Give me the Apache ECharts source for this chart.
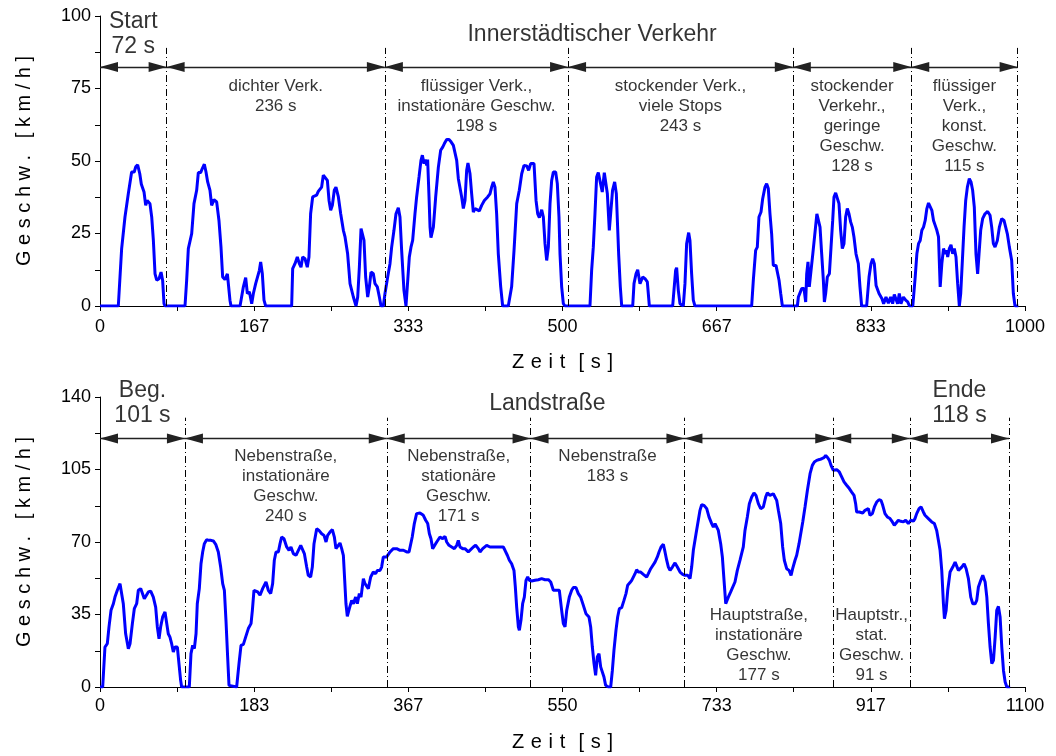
<!DOCTYPE html>
<html>
<head>
<meta charset="utf-8">
<script src="https://cdn.jsdelivr.net/npm/echarts/dist/echarts.min.js"></script>
<style>html,body{margin:0;background:#fff}#chart{width:1056px;height:756px}</style>
</head>
<body>
<div id="chart"></div>
<script>
// --- Innerstädtischer Verkehr (oben) ---
let topTime = [0,19.8,23.4,25,27,30.6,34.2,37,38.6,40.7,43,44.7,47.6,49.4,51,54,55.9,57.7,59.5,61.3,63.8,66,67.7,69.2,70.3,
  91.9,93.7,95.5,97.3,99.1,101.6,104.5,106.3,108.8,110.6,112.8,114.6,116.4,118.9,120.7,123.2,126.1,128.6,130.8,132.6,135.1,137.7,139.5,140.5,141.6,
  151.4,155,157.5,159.3,161.5,164,165.8,168.3,170,172.3,173.7,175.5,177.3,179.1,
  207.2,208.3,210.8,213.3,215.5,217.3,219.1,221.6,224.1,225.9,227.7,229.9,231.4,234.2,236,239.6,241.4,243.2,245.8,247.6,249.4,251.2,253.3,255.1,257.7,260.2,263.1,264.9,267.7,270.3,273.9,276.8,
  278.6,280.4,282.2,284,285.4,287.2,289.4,291.2,293,295.5,297.3,299.8,302,303.8,306.3,
  308.1,311,313.5,315.3,317.8,320,322.5,324.3,326.1,328.6,330.8,332.3,334.4,336.2,338,340.5,342.3,344.9,347,348.5,350.3,351.7,353.2,354.2,355.7,356.8,357.8,360.4,362.9,365.8,368.3,370.5,372.3,374.8,377.3,379.5,382,383.8,385.6,387.4,389.2,391,392.8,394.6,396.4,397.8,400,401.8,403.6,405.4,407.2,410.1,412.6,415.5,419.1,421.6,423.4,425.2,427,428.8,430.6,433.2,435.3,
  441.4,445,447.6,450.5,453.3,455.9,458.4,461.3,463.4,465.6,469.2,471.4,473.2,475,477.5,479.3,481.1,482.9,484.7,486.5,488.3,490.1,492.6,494.4,496.2,497.3,499.1,500.9,502.7,
  529.7,531.5,533.3,535.1,536.9,538.7,540.5,543,545.2,546.7,548.5,550.6,552,554.1,556.4,558.2,560.7,562.5,564,
  575.9,577.3,579.5,581.3,583.8,586.7,589.2,591.7,593.9,619.1,620.5,622.3,623.4,625.2,627,630.6,632.4,634.2,636.4,637.8,639.6,641.4,643.2,
  704.5,706.3,708.8,710.6,712.4,714.6,716.4,718.9,720.7,722.5,724.3,726.1,727.9,730.8,732.3,734.1,735.9,737.7,
  753.9,755,757,758.6,761.1,762.9,764,765.4,766.8,768.3,770.6,773.2,775,776.8,778.4,780.2,782,783.1,784.5,786.3,788.5,790.3,792.1,793.5,795.3,797.1,798.9,800.7,802.5,804.3,806.1,807.9,809.7,811.5,813.3,815.1,817.3,819.8,821.6,823.4,
  828.8,831.4,833.5,835.3,837.1,839,840.4,842.2,844,845.4,847.2,849.7,852.3,854.8,856.9,858.7,860.5,862.3,864.1,865.9,868.5,871,873.2,875.1,
  878.7,881.3,883.1,884.9,886.7,888.5,890.3,892.1,893.9,895.7,897.3,899.3,901.1,902.9,904.7,906.5,908.3,910.1,911.9,913.7,915.5,916.4,918.2,920,921.8,923.6,925.4,927.2,929,
  930.5,932.3,934.1,935.9,937.7,939.8,941.6,943.4,945.2,947,948.8,950.3,952.1,954.2,956.8,959.6,962.2,964,965.8,967.6,970.1,972.3,974.8,977.3,979.1,980.9,983.1,985.6,987.4,989.2,992.8];
let topSpeed = [0,0,19.8,20.3,30.7,38.7,46.2,46.2,48,48.7,45.6,42,39.3,34.7,36.4,35.3,30.7,22.6,11.1,8.9,9.4,11.7,8.9,0.8,0,
  0,8.9,19.8,20.3,24.9,35.3,39.9,46,46,47.4,48.9,46.2,42.8,39.9,34.7,36.7,35.9,29.5,20.3,10,9.1,11.1,11.1,2,0,
  0,6.6,9.8,4.3,4.9,0.8,4.3,7.7,7.7,12.3,15.2,11.1,2,0,
  0,12.9,14.6,16.9,14.6,13.4,16.9,16.3,13.4,16.9,31.8,37.6,38.2,38.2,39.5,41,45.1,45.4,43.3,36.4,33,34.7,39.9,41,37.6,31.8,26.1,23.8,18,7.7,3.1,0,
  3.1,13.4,26.7,27,22.6,10,3.1,6.6,11.7,11.1,7.7,6.6,3.1,0,0,
  4.3,10,14.6,20.3,26.1,31.8,33.9,30.7,19.2,5.4,0,0,16.9,20.3,22.6,31.8,37.6,44.5,50.2,52,49.1,50.5,48.5,50.5,37.6,27.2,23.6,27.2,37.6,47.9,53.7,54.8,56,57.4,57.4,56.6,55.4,54.8,50.2,43.9,43.3,37.6,33.6,36.4,46.8,49.3,45.6,38.7,32.4,33.6,33,32.8,34.7,36.4,37.6,38.7,41,42.8,41,31.8,18,6.6,0,
  0,6.6,19.2,35.3,39.9,45.6,48.5,48.3,46.8,49.1,49.1,36.4,31.8,30.5,33.2,30.7,21.5,15.7,20.3,35.3,43.3,46.2,46.2,42.2,30.7,18,6.6,0.8,0,
  0,12.3,20.3,31.8,44.5,46,46.2,39.3,46,46.2,38.7,26.1,26.1,39.9,42.8,38.7,18,6.6,0,
  0,7.7,11.1,12.5,7.7,10,9.4,8.3,0,0,5.4,12.3,13.2,5.4,0.8,0,7.7,21.5,25.3,22.6,11.1,2,0,
  0,8.9,19.2,20.3,30.7,32.4,37,41,42.2,40.5,31.8,24.9,14,14,13.4,8.9,4.3,0,
  0,3.1,3.7,6,6,1.4,11.1,15.2,6.6,6.6,18,26.1,31.8,32.2,27.2,18,8.9,1.4,4.3,10,11.1,20.3,29.5,37.6,39,39.3,35.3,26.1,19.8,21.5,30.7,33.6,31.8,29,27.2,23.8,18,14.6,6.6,0,
  0,10,14.6,16.3,14.6,7.1,6.6,4.3,4.9,2.5,0.8,3.1,1,3.1,0.8,4,4.3,0.8,4.3,0.8,3.1,2,1.4,0,
  0,10,18,21.5,22.6,26.1,27.2,29.5,33.6,35.5,35.3,33,29.5,27.8,26.1,23.8,6.6,14.6,19.8,18,19.2,16.9,19.8,21.1,18,19.8,16.9,7.7,0,
  4.3,15.7,27.2,36.4,41,43.9,42.8,39.9,34.1,18,11.1,18,26.1,30.1,31.8,32.6,31.3,27.2,21.5,20.3,22.6,27.2,30.1,29.5,27.2,24.9,20.3,15.7,4.3,0,0];

// --- Landstraße (unten) ---
let botTime = [0,3.2,5.9,8.7,10.7,13.1,15.9,17.8,20.6,23.8,25.8,27.7,30.5,33.7,35.7,38.5,40.8,43.6,45.6,48.4,50.7,52.7,54.7,57.5,60.3,63.4,66.2,68.2,70.2,72.1,74.5,77.3,79.3,81.2,83.2,85.2,87.2,89.2,92,93.9,95.9,97.1,
  106.2,108.2,110.2,112.2,114.2,115.7,118.1,120.1,122.1,124.1,126.8,129.6,132,134.8,137.6,140.7,143.5,145.9,147.9,149.8,151.8,153.4,154.6,
  162.5,165.3,167.7,170.5,173.2,176.4,179.6,181.2,183.1,185.1,187.5,190.3,193.4,197.4,200.2,203,205.3,207.3,209.3,212.1,214.1,216,218.8,222,224.8,227.1,229.9,233.1,235.9,238.7,240.7,243,245.8,247.7,250.5,252.5,254.5,257.7,260.4,263.6,266.4,268.8,270.7,273.5,276.3,278.7,280.6,282.6,285.4,287.4,289.4,291.4,
  292.5,294.1,296.5,299.3,301.3,304,306,308.4,310.4,313.2,315.1,317.1,319.1,321.9,325,327.8,329.8,333,334.9,336.9,340.9,344.9,348.8,352.8,356.8,360.8,364.7,367.5,371.3,373.8,376.5,380.5,384.5,387.3,389.7,391.7,393.6,395.6,397.6,400.4,404.3,407.5,410.3,412.3,415,418.2,421.4,424.2,426.1,428.1,431.3,434,436,438,440,444,446.7,449.9,451.9,455.1,459.8,463.8,471.7,479.6,481.6,484.4,486.8,489.5,492.3,493.9,495.5,497.5,498.7,
  500.6,502.6,504.6,506.6,508.6,510.6,513.3,517.3,521.3,525.2,529.2,533.2,536,539.1,542.3,546.2,549,551,553,555,558.1,560.9,562.9,566,568.8,571.6,574.8,577.9,581.5,583.5,585.5,587.5,589.4,591.4,593.4,595.4,597.4,599.3,601.3,604.5,607.3,
  609.3,611.2,613.6,615.6,617.6,620.4,623.1,625.5,627.5,630.3,632.3,634.3,636.3,638.2,640.2,643,646.1,650.1,652.1,654.9,657.2,660,662.8,664.8,667.2,669.9,671.9,673.9,675.9,677.9,680.7,683.8,686.6,689.8,692.9,695.7,698.9,
  701.7,703.6,705.6,708.8,711.5,713.5,715.5,718.3,721.5,724.2,727.4,729.4,731.4,733.3,735.3,738.1,740.1,742.1,744.1,745.2,747.2,750,752.3,755.1,757.9,761.1,765,767,769.8,772.2,775,777.7,780.1,782.9,785.7,788.8,791.6,793.6,796.7,800.7,802.7,804.7,806.7,809.5,811.8,813.8,816.6,819.4,821.8,823.7,826.5,828.5,831.3,833.3,835.7,838.4,841.2,844.4,847.1,849.5,852.3,855.5,858.3,861,863,865.4,867.4,869.3,
  872.1,876.1,879.2,882,884.8,887.9,891.1,893.9,896.7,898.6,899.8,903,907,909.8,911.7,913.7,915.7,918.5,920.9,923.6,926.4,928.8,930.8,933.5,936.3,939.5,942.3,944.6,946.6,949.4,952.2,955.4,958.1,961.3,
  964.1,967.3,969.2,971.2,974,976.4,979.1,981.1,985.1,989.1,992.2,995,997,999,1001,1003,1004.2,1006.2,1008.1,1010.9,1014.1,1016.9,1018.8,1020.8,1022.8,1024.8,1027.6,1030,1032.7,1035.5,1037.9,1040.7,1042.6,1044.6,1047.4,1049.8,1052.6,1054.6,1056.5,1058.5,1060.5,1062.5,1064.5,1066.4,1068.4,1070.4,1072.4,1074.4,1076.4,1078.4,1082.3];
let botSpeed = [0,0,19.3,20.9,29,37,40.2,43.4,46.7,49.9,49.1,40.2,25.7,18.5,20.9,30.6,37.8,40.2,46.7,47.5,46.7,42.6,43.4,45.9,46.3,43.4,38.6,29,23.3,29,33.8,36.2,35.4,25.7,24.1,20.9,16.9,19.3,19.3,11.3,3.2,0,
  0,16.1,20.1,18.5,25.7,40.2,47.5,59.5,65.2,69.2,71.1,70.8,70.8,70.5,68.9,65.2,57.9,49.9,46.7,32.2,14.5,0.8,0,
  0,11.3,20.1,20.6,24.1,28.2,30.6,37,46.7,47.5,45.9,44.3,47.5,50.7,46.7,45.1,49.9,61.2,65.2,65.2,69.2,72.4,71.6,67.6,66,67.6,64.4,63.6,66,68.4,68.4,64.4,57.9,53.9,53.1,57.9,69.2,76.4,75.6,74,73.2,70,73.2,74.8,76,72.4,66.8,66,69.5,66.8,63.6,63.6,
  40.2,34.1,37.8,41.8,40.2,43.4,40.2,45.1,43.4,52.3,49.9,50.7,47.5,53.1,55.5,54.7,56.3,56.3,57.9,62.8,62.8,65.2,66.8,66.8,66,66,65.2,65.2,72.4,78.9,83.7,84,82.9,80.5,78.9,74,71.6,66.8,67.6,70,72.4,71.6,72.7,70,68.4,67.6,66.8,68.4,70.8,67.6,66.8,66.8,66,65.2,66,67.6,68.4,66.8,65.2,66.8,68.4,67.6,67.6,67.6,66,63.6,61.2,59.5,56.3,48.3,38.6,29,27.4,
  32.2,40.2,43.4,51.5,53.1,51.5,51.2,51.5,51.8,52.3,51.8,51.8,50.7,46.7,46.7,46.7,37,30.6,29,37,43.4,46.7,48,48,45.1,43.4,39.4,35.4,33.8,29,19.3,11.3,5.6,14.5,16.1,9.7,9.7,4.8,0.8,0,0,
  8,17.7,27.4,33.8,37.8,38.3,41.8,45.1,49.1,50.4,51.5,52.3,54.7,56.6,55.5,55.5,54.4,53.1,54.7,57.1,57.9,60.3,62.8,65.2,67.6,68.9,65.2,61.2,57.9,56.3,57.9,59.9,57.9,55.5,54.4,53.9,53.9,
  52.3,57.9,66,74,80.5,85.3,88,87.7,86.1,82.1,78.9,77.2,78.9,79.7,75.6,69.2,62.8,51.5,40.2,39.4,43.4,45.9,45.1,50.7,56.3,61.2,67.6,75.6,82.1,88.5,91.7,93.7,92.5,88.5,86.1,86.9,91.7,93.7,92.5,93.3,92.5,90.1,85.3,78.9,67.6,61.2,57.1,56.3,53.9,57.1,61.2,63.6,69.2,74,79.7,86.9,94.9,103,107,108.6,109.4,109.8,110.2,110.7,111.8,110.7,109.4,107,
  104.6,104.9,103.8,101.4,99,97.4,95.8,94.1,92.5,88.5,84.5,84.5,84,85.3,84.5,86.1,82.9,83.7,86.9,89.3,90.4,90.1,87.7,83.7,82.1,81.3,79.7,78.1,78.9,80.5,80,79.7,80.5,78.9,
  80.5,80.1,81.3,83.7,86.1,86.9,84.5,82.9,81.3,79.7,78.9,75.6,70.8,66,56.3,40.2,33,37,46.7,55.5,57.9,60.3,59.5,56.3,55.5,57.9,59.5,57.1,52.3,43.4,40.2,40.2,41.8,48.3,51.5,53.9,50.7,43.4,30.6,19.3,11.3,12.9,24.1,37,38.9,33.8,19.3,8,2.4,0,0];

// Abschnittsgrenzen [s] und Beschriftungen
let topBounds = [0, 72, 308, 506, 749, 877, 992];
let topText = ['Start\n72 s', 'dichter Verk.\n236 s', 'flüssiger Verk.,\ninstationäre Geschw.\n198 s',
  'stockender Verk.,\nviele Stops\n243 s', 'stockender\nVerkehr.,\ngeringe\nGeschw.\n128 s',
  'flüssiger\nVerk.,\nkonst.\nGeschw.\n115 s'];
let topTitle = 'Innerstädtischer Verkehr';
let botBounds = [0, 101, 341, 512, 695, 872, 963, 1081];
let botText = ['Beg.\n101 s', 'Nebenstraße,\ninstationäre\nGeschw.\n240 s', 'Nebenstraße,\nstationäre\nGeschw.\n171 s',
  'Nebenstraße\n183 s', 'Hauptstraße,\ninstationäre\nGeschw.\n177 s', 'Hauptstr.,\nstat.\nGeschw.\n91 s', 'Ende\n118 s'];
let botTitle = 'Landstraße';

let font = "'Liberation Sans', Arial, sans-serif";
let yName = 'G e s c h w .   [ k m / h ]';
let xs = '\u2004';
let xName = ['Z','e','i','t'].join(xs) + xs + xs + ['[','s',']'].join(xs);

let chart = echarts.init(document.getElementById('chart'));

function pairs(ts, vs) {
    return ts.map(function (t, i) { return [t, vs[i]]; });
}

function mid(b, i) { return (b[i] + b[i + 1]) / 2; }

function nearMultiple(v, step) {
    let r = v / step;
    return Math.abs(r - Math.round(r)) < 0.01;
}

function xAxisCfg(idx, max) {
    let step = max / 6;
    return {
        type: 'value', gridIndex: idx, min: 0, max: max, interval: max / 12,
        axisLine: {onZero: false, lineStyle: {color: '#000', width: 1}},
        axisTick: {length: 5, lineStyle: {color: '#000'}},
        axisLabel: {
            color: '#000', fontSize: 18, fontFamily: font, margin: idx === 0 ? 12 : 10,
            formatter: function (v) { return nearMultiple(v, step) ? String(Math.round(v)) : ''; }
        },
        splitLine: {show: false},
        name: xName, nameLocation: 'middle', nameGap: idx === 0 ? 46 : 45,
        nameTextStyle: {color: '#000', fontSize: 20, fontFamily: font}
    };
}

function yAxisCfg(idx, max) {
    let step = max / 4;
    return {
        type: 'value', gridIndex: idx, min: 0, max: max, interval: max / 8,
        axisLine: {show: true, lineStyle: {color: '#000', width: 1}},
        axisTick: {show: true, length: 5, lineStyle: {color: '#000'}},
        axisLabel: {
            color: '#000', fontSize: 18, fontFamily: font, margin: 9,
            formatter: function (v) { return nearMultiple(v, step) ? String(Math.round(v)) : ''; }
        },
        splitLine: {show: false},
        name: yName, nameLocation: 'middle', nameGap: 66,
        nameTextStyle: {color: '#000', fontSize: 20, fontFamily: font}
    };
}

function label(x, y, text, size, vAlign) {
    return {
        value: [x, y],
        label: {
            show: true, position: [0, 0], formatter: text, color: '#000', fontFamily: font,
            fontSize: size, lineHeight: size > 20 ? 25 : 20, align: 'center', verticalAlign: vAlign
        }
    };
}

// senkrechte Strich-Punkt-Linien an den Abschnittsgrenzen
function dividers(b, top) {
    return b.slice(1).map(function (x) { return [{coord: [x, 0]}, {coord: [x, top]}]; });
}

// Doppelpfeile zwischen den Grenzen
function arrows(b, y) {
    let out = [];
    for (let i = 0; i < b.length - 1; i++) out.push([{coord: [b[i], y]}, {coord: [b[i + 1], y]}]);
    return out;
}

let topLabels = [label(mid(topBounds, 0), 93.6, topText[0], 23, 'middle'), label(532, 93.4, topTitle, 23, 'middle')];
for (let i = 1; i < topText.length; i++) topLabels.push(label(mid(topBounds, i), 79.3, topText[i], 17, 'top'));

let botLabels = [label(mid(botBounds, 0), 137, botText[0], 23, 'middle'), label(532, 137, botTitle, 23, 'middle'),
    label(mid(botBounds, 6), 137, botText[6], 23, 'middle')];
for (let i = 1; i <= 3; i++) botLabels.push(label(mid(botBounds, i), 116, botText[i], 17, 'top'));
for (let i = 4; i <= 5; i++) botLabels.push(label(mid(botBounds, i), 39.2, botText[i], 17, 'top'));

let dashLine = {silent: true, symbol: ['none', 'none'], label: {show: false},
    lineStyle: {color: '#000', width: 1, type: [7, 3, 1, 3]}, animation: false};
let arrowLine = {silent: true, symbol: ['triangle', 'triangle'], symbolSize: [10, 18], symbolOffset: [[0, 9], [0, 9]],
    label: {show: false}, lineStyle: {color: '#222', width: 1.3, type: 'solid'}, animation: false};

let option = {
    animation: false,
    backgroundColor: '#fff',
    grid: [
        {left: 100, top: 16, width: 925, height: 290, outerBoundsMode: 'none'},
        {left: 100, top: 397, width: 925, height: 290, outerBoundsMode: 'none'}
    ],
    xAxis: [xAxisCfg(0, 1000), xAxisCfg(1, 1100)],
    yAxis: [yAxisCfg(0, 100), yAxisCfg(1, 140)],
    series: [
        {
            type: 'line', xAxisIndex: 0, yAxisIndex: 0, data: pairs(topTime, topSpeed),
            showSymbol: false, lineStyle: {color: '#0000ff', width: 3}, z: 3,
            markLine: Object.assign({data: dividers(topBounds, 89)}, dashLine)
        },
        {
            type: 'line', xAxisIndex: 1, yAxisIndex: 1, data: pairs(botTime, botSpeed),
            showSymbol: false, lineStyle: {color: '#0000ff', width: 3}, z: 3,
            markLine: Object.assign({data: dividers(botBounds, 130)}, dashLine)
        },
        {
            type: 'scatter', xAxisIndex: 0, yAxisIndex: 0, symbolSize: 0, clip: false, data: topLabels,
            markLine: Object.assign({data: arrows(topBounds, 82.4)}, arrowLine)
        },
        {
            type: 'scatter', xAxisIndex: 1, yAxisIndex: 1, symbolSize: 0, clip: false, data: botLabels,
            markLine: Object.assign({data: arrows(botBounds, 120)}, arrowLine)
        }
    ]
};

chart.setOption(option);
</script>
</body>
</html>
